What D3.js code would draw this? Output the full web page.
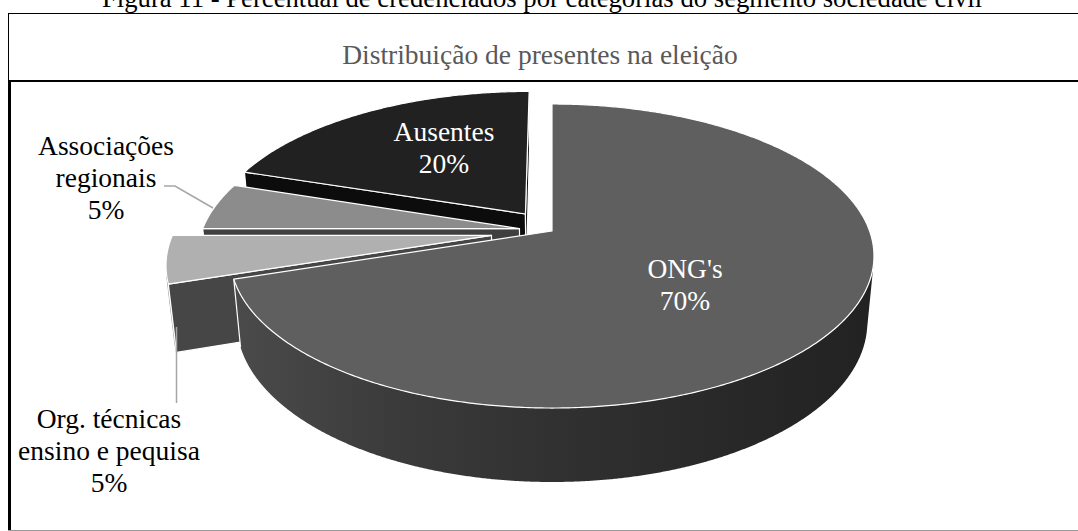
<!DOCTYPE html>
<html><head><meta charset="utf-8">
<script src="https://cdn.jsdelivr.net/npm/d3@7"></script>
<style>body{margin:0;background:#fff}svg{display:block}</style>
</head><body>
<script>
// ---------- data ----------
const categories = ["ONG's", "Org. técnicas\nensino e pequisa", "Associações\nregionais", "Ausentes"];
const values = [70, 5, 5, 20];
const percentLabels = ["70%", "5%", "5%", "20%"];
const caption = "Figura 11 - Percentual de credenciados por categorias do segmento sociedade civil";
const chartTitle = "Distribuição de presentes na eleição";

// ---------- styles ----------
const topColors = ["#5f5f5f", "#b0b0b0", "#8c8c8c", "#212121"];
const radialColors = ["#3a3a3a", "#464646", "#3f3f3f", "#0c0c0c"];
const sideColors = ["url(#ongSide)", "#4d4d4d", "#5a5a5a", "#101010"];
const explode = [0, 0.192, 0.104, 0.145];           // fraction of radius
const labelColors = ["#fff", "#000", "#000", "#fff"];
const labelPos = [[685, 278], [109, 428], [106, 155], [444, 141]]; // first baseline
const lineH = 32;

const W = 1078, H = 531;
const FONT = "'Liberation Serif','Times New Roman',serif";

// ---------- 3D projection ----------
const cx = 552, cy = 231, R = 317.6, depth = 0.2383 * R;
const s = 0.4657, c = Math.sqrt(1 - s * s);
const D0 = R / 0.1859, F = D0;
const camY = D0 * s, camZ = D0 * c;
function proj(X, Y, Z) {
  const d = D0 - Z * c - Y * s;
  return [cx + F * X / d, cy + F * (Z * s - Y * c) / d];
}

const svg = d3.select("body").append("svg").attr("width", W).attr("height", H);
const defs = svg.append("defs");
const grad = defs.append("linearGradient").attr("id", "ongSide")
  .attr("gradientUnits", "userSpaceOnUse").attr("x1", 232).attr("x2", 872).attr("y1", 0).attr("y2", 0);
[[0, "#4b4b4b"], [0.25, "#3b3b3b"], [0.5, "#313131"], [0.75, "#292929"], [1, "#222222"]]
  .forEach(([o, col]) => grad.append("stop").attr("offset", o).attr("stop-color", col));

// frames
svg.append("line").attr("x1", 8).attr("x2", W).attr("y1", 13.5).attr("y2", 13.5).attr("stroke", "#000").attr("stroke-width", 1);
svg.append("line").attr("x1", 8.5).attr("x2", 8.5).attr("y1", 13).attr("y2", H).attr("stroke", "#000").attr("stroke-width", 1);
svg.append("line").attr("x1", 8).attr("x2", W).attr("y1", 81).attr("y2", 81).attr("stroke", "#000").attr("stroke-width", 2);
svg.append("line").attr("x1", 10).attr("x2", 10).attr("y1", 80).attr("y2", H).attr("stroke", "#000").attr("stroke-width", 2);
svg.append("line").attr("x1", 8).attr("x2", W).attr("y1", 530.5).attr("y2", 530.5).attr("stroke", "#999").attr("stroke-width", 1);

// caption and title
svg.append("text").attr("x", 542).attr("y", 7).attr("text-anchor", "middle")
  .attr("font-family", FONT).attr("font-size", 26.7).attr("fill", "#000").text(caption);
svg.append("text").attr("x", 540).attr("y", 64).attr("text-anchor", "middle")
  .attr("font-family", FONT).attr("font-size", 27.5).attr("fill", "#595959").text(chartTitle);

// pie
const arcs = d3.pie().sort(null).startAngle(0).endAngle(2 * Math.PI)(values);
const line = d3.line();
const slices = arcs.map((a, i) => {
  const mid = (a.startAngle + a.endAngle) / 2;
  const e = explode[i] * R;
  const oX = e * Math.sin(mid), oZ = -e * Math.cos(mid);
  return { i, a0: a.startAngle, a1: a.endAngle, oX, oZ, zc: oZ - 0.5 * R * Math.cos(mid) };
}).sort((p, q) => p.zc - q.zc);

const pieG = svg.append("g");
slices.forEach(sl => {
  const { i, a0, a1, oX, oZ } = sl;
  const rimX = t => oX + R * Math.sin(t), rimZ = t => oZ - R * Math.cos(t);
  // outer side (only facing parts)
  const n = Math.max(2, Math.ceil((a1 - a0) / (Math.PI / 720)));
  const vis = t => Math.sin(t) * (0 - rimX(t)) + (-Math.cos(t)) * (camZ - rimZ(t)) > 0;
  let runs = [], cur = [];
  for (let k = 0; k <= n; k++) {
    const t = a0 + (a1 - a0) * k / n;
    if (vis(t)) cur.push(t); else { if (cur.length > 1) runs.push(cur); cur = []; }
  }
  if (cur.length > 1) runs.push(cur);
  runs.forEach(run => {
    const pts = run.map(t => proj(rimX(t), 0, rimZ(t)))
      .concat(run.slice().reverse().map(t => proj(rimX(t), -depth, rimZ(t))));
    pieG.append("path").attr("d", line(pts) + "Z").attr("fill", sideColors[i])
      .attr("stroke", sideColors[i].startsWith("url") ? "none" : sideColors[i]).attr("stroke-width", 0.5);
    [run[0], run[run.length - 1]].forEach(t => {
      if (Math.abs(t - a0) < 1e-9 || Math.abs(t - a1) < 1e-9) {
        pieG.append("path").attr("d", line([proj(rimX(t), 0, rimZ(t)), proj(rimX(t), -depth, rimZ(t))]))
          .attr("stroke", "#fff").attr("stroke-width", 1.2).attr("fill", "none");
      }
    });
  });
  // radial faces
  [[a0, a0 - Math.PI / 2], [a1, a1 + Math.PI / 2]].forEach(([t, nt]) => {
    const dot = Math.sin(nt) * (0 - oX) + (-Math.cos(nt)) * (camZ - oZ);
    if (dot > 0.5) {
      const pts = [proj(oX, 0, oZ), proj(rimX(t), 0, rimZ(t)), proj(rimX(t), -depth, rimZ(t)), proj(oX, -depth, oZ)];
      pieG.append("path").attr("d", line(pts) + "Z").attr("fill", radialColors[i])
        .attr("stroke", "#fff").attr("stroke-width", 1.2).attr("stroke-linejoin", "round");
    }
  });
  // top face
  const m = Math.max(2, Math.ceil((a1 - a0) / (Math.PI / 360)));
  const topPts = [proj(oX, 0, oZ)].concat(d3.range(m + 1).map(k => {
    const t = a0 + (a1 - a0) * k / m; return proj(rimX(t), 0, rimZ(t));
  }));
  pieG.append("path").attr("d", line(topPts) + "Z").attr("fill", topColors[i])
    .attr("stroke", "#fff").attr("stroke-width", 1.2).attr("stroke-linejoin", "round");
});

// leader lines
svg.append("path").attr("d", line([[164, 186], [175, 186], [213, 208]]))
  .attr("fill", "none").attr("stroke", "#a6a6a6").attr("stroke-width", 1.5);
svg.append("path").attr("d", line([[176.5, 327], [176.5, 403]]))
  .attr("fill", "none").attr("stroke", "#a6a6a6").attr("stroke-width", 1.5);

// labels
categories.forEach((cat, i) => {
  const lines = cat.split("\n").concat([percentLabels[i]]);
  const t = svg.append("text").attr("text-anchor", "middle").attr("font-family", FONT)
    .attr("font-size", 27.5).attr("fill", labelColors[i]);
  lines.forEach((ln, j) => t.append("tspan").attr("x", labelPos[i][0]).attr("y", labelPos[i][1] + j * lineH).text(ln));
});
</script>
</body></html>
